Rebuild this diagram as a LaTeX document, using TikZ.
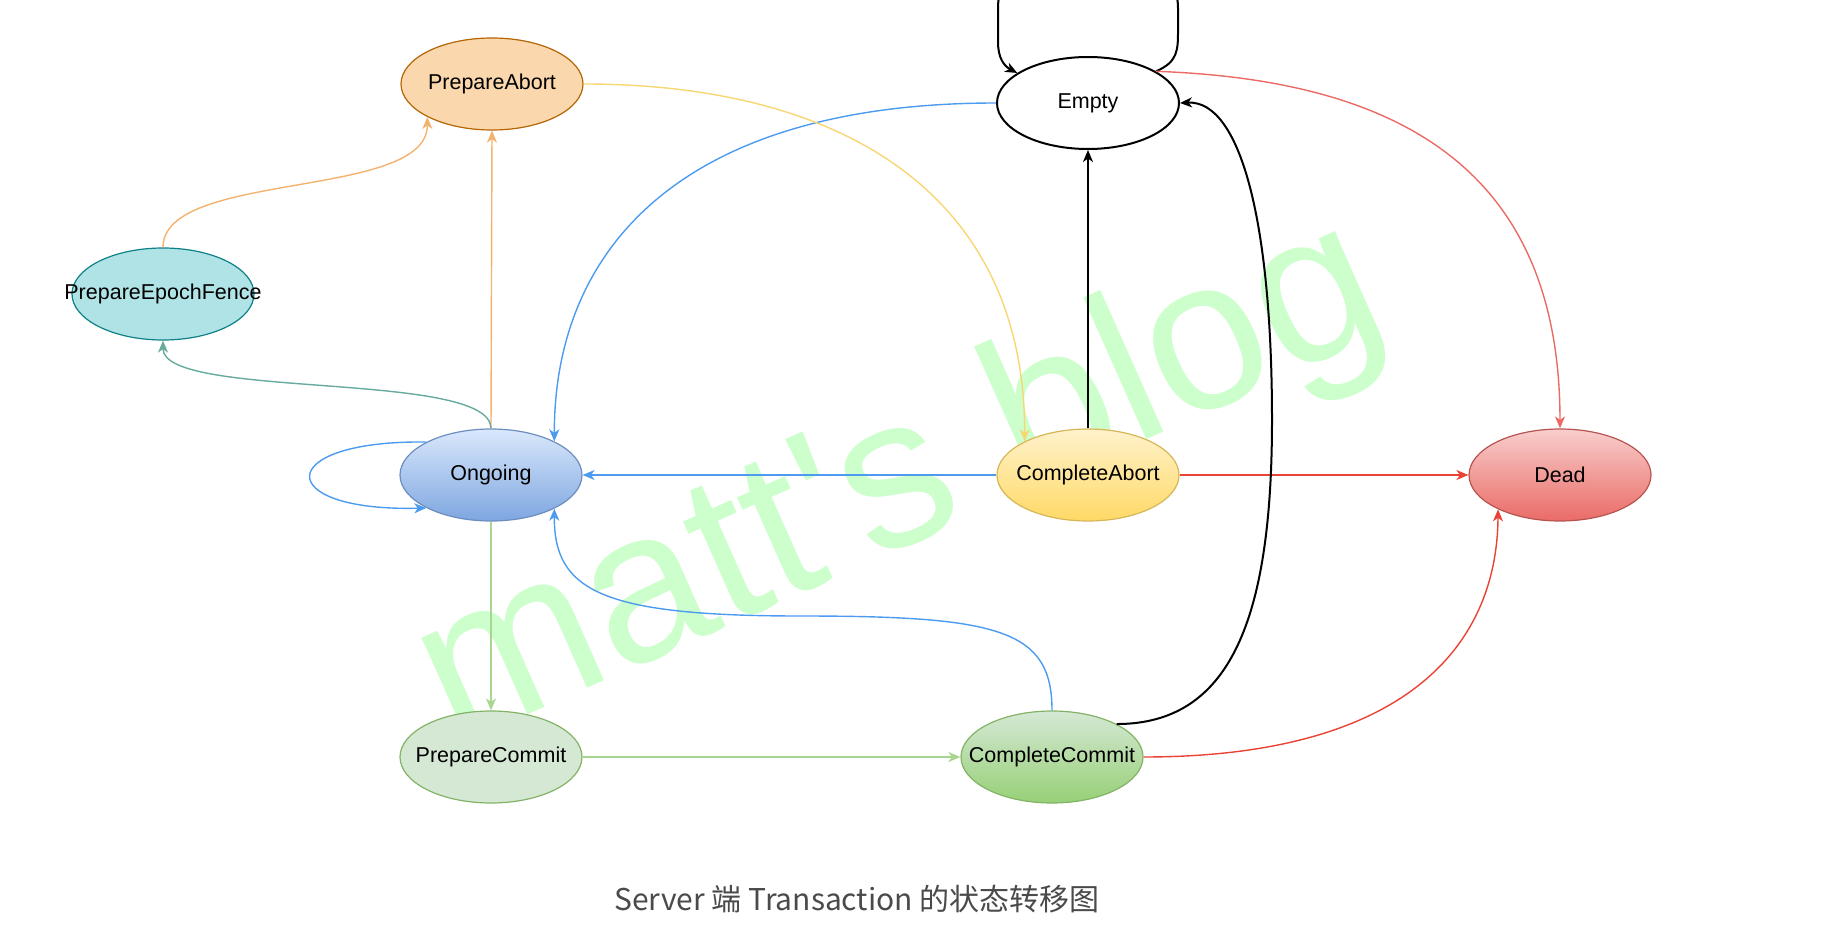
\documentclass[tikz,border=0pt]{standalone}
\usepackage{fontspec}
\setmainfont{Liberation Sans}
\newfontfamily\cjkfont{Noto Sans CJK SC}
\usetikzlibrary{arrows.meta,shapes.geometric}

\definecolor{paFill}{HTML}{FAD7AC}
\definecolor{paDraw}{HTML}{B46504}
\definecolor{pefFill}{HTML}{B0E3E6}
\definecolor{pefDraw}{HTML}{0E8088}
\definecolor{blueTop}{HTML}{DAE8FC}
\definecolor{blueBot}{HTML}{7EA6E0}
\definecolor{blueDraw}{HTML}{6C8EBF}
\definecolor{yelTop}{HTML}{FFF2CC}
\definecolor{yelBot}{HTML}{FFD966}
\definecolor{yelDraw}{HTML}{D6B656}
\definecolor{redTop}{HTML}{F8CECC}
\definecolor{redBot}{HTML}{EA6B66}
\definecolor{redDraw}{HTML}{B85450}
\definecolor{grnTop}{HTML}{D5E8D4}
\definecolor{grnBot}{HTML}{97D077}
\definecolor{grnDraw}{HTML}{82B366}
\definecolor{edgeBlue}{HTML}{4C9BEF}
\definecolor{edgeRed}{HTML}{EA4335}
\definecolor{edgeSoftRed}{HTML}{EA6B66}
\definecolor{edgeYellow}{HTML}{F7D674}
\definecolor{edgeOrange}{HTML}{F4B26F}
\definecolor{edgeTeal}{HTML}{67AB9F}
\definecolor{edgeGreen}{HTML}{A8D590}
\definecolor{markGreen}{HTML}{CDFFCD}
\definecolor{captionGray}{HTML}{4A4A4A}

\tikzset{
  fsm/state/.style={draw, ellipse, line width=1.2pt, inner sep=0pt, minimum width=182pt, minimum height=92pt, font=\fontsize{21.5}{25}\selectfont},
  fsm/line/.style={line width=1.4pt, -{Stealth[length=12pt,width=10pt,inset=3.5pt]}},
  fsm/bold/.style={fsm/line, line width=2pt},
  fsm/mark/.style={text=markGreen, font=\fontsize{214}{214}\selectfont, rotate=24, inner sep=0pt},
  fsm/caption/.style={text=captionGray, font=\cjkfont\fontsize{30}{35}\selectfont}
}
\newcommand{\statename}[1]{\makebox[0pt]{#1}}

\begin{document}
\begin{tikzpicture}[x=1pt, y=-1pt]
  \useasboundingbox (0,0) rectangle (1848,936);
  \clip (0,0) rectangle (1848,936);

  \node[fsm/mark] (watermark) at (902,488) {matt\textquotesingle s blog};

  \node[fsm/state, fill=paFill, draw=paDraw] (pa) at (492,84) {\statename{PrepareAbort}};
  \node[fsm/state, line width=2pt, fill=white] (empty) at (1088,103) {\statename{Empty}};
  \node[fsm/state, fill=pefFill, draw=pefDraw] (pef) at (163,294) {\statename{PrepareEpochFence}};
  \node[fsm/state, top color=blueTop, bottom color=blueBot, draw=blueDraw] (ongoing) at (491,475) {\statename{Ongoing}};
  \node[fsm/state, top color=yelTop, bottom color=yelBot, draw=yelDraw] (cabort) at (1088,475) {\statename{CompleteAbort}};
  \node[fsm/state, top color=redTop, bottom color=redBot, draw=redDraw] (dead) at (1560,475) {\statename{Dead}};
  \node[fsm/state, fill=grnTop, draw=grnDraw] (pcommit) at (491,757) {\statename{PrepareCommit}};
  \node[fsm/state, top color=grnTop, bottom color=grnBot, draw=grnDraw] (ccommit) at (1052,757) {\statename{CompleteCommit}};

  \node[fsm/caption] (caption) at (857,899) {Server 端 Transaction 的状态转移图};

  % Empty
  \draw[fsm/bold, black] (empty.25) .. controls (1178,62) and (1178,50) .. (1178,30) -- (1178,8)
    .. controls (1178,-14) and (1168,-14) .. (1150,-14) -- (1026,-14)
    .. controls (998,-14) and (998,-4) .. (998,10) -- (998,42)
    .. controls (998,58) and (1004,66) .. (empty.157);
  \draw[fsm/line, edgeSoftRed] (empty.25) .. controls (1400,80) and (1560,170) .. (dead.north);
  \draw[fsm/line, edgeBlue] (empty.west) .. controls (680,103) and (554,250) .. (ongoing.28);

  % PrepareAbort / PrepareEpochFence
  \draw[fsm/line, edgeYellow] (pa.east) .. controls (850,84) and (1025,200) .. (cabort.152);
  \draw[fsm/line, edgeOrange] (pef.north) .. controls (163,170) and (428,200) .. (pa.207);

  % Ongoing
  \draw[fsm/line, edgeOrange] (ongoing.north) -- (pa.south);
  \draw[fsm/line, edgeTeal] (ongoing.north) .. controls (491,370) and (163,400) .. (pef.south);
  \draw[fsm/line, edgeBlue] (ongoing.153) .. controls (272,440) and (272,512) .. (ongoing.207);
  \draw[fsm/line, edgeGreen] (ongoing.south) -- (pcommit.north);

  % CompleteAbort
  \draw[fsm/bold, black] (cabort.north) -- (empty.south);
  \draw[fsm/line, edgeBlue] (cabort.west) -- (ongoing.east);
  \draw[fsm/line, edgeRed] (cabort.east) -- (dead.west);

  % PrepareCommit / CompleteCommit
  \draw[fsm/line, edgeGreen] (pcommit.east) -- (ccommit.west);
  \draw[fsm/line, edgeBlue] (ccommit.north) .. controls (1052,630) and (1000,616) .. (800,616)
    .. controls (600,616) and (554,590) .. (ongoing.332);
  \draw[fsm/bold, black] (ccommit.27) .. controls (1230,724) and (1272,620) .. (1272,420)
    .. controls (1272,220) and (1240,100) .. (empty.east);
  \draw[fsm/line, edgeRed] (ccommit.east) .. controls (1400,757) and (1497,650) .. (dead.209);
\end{tikzpicture}
\end{document}
